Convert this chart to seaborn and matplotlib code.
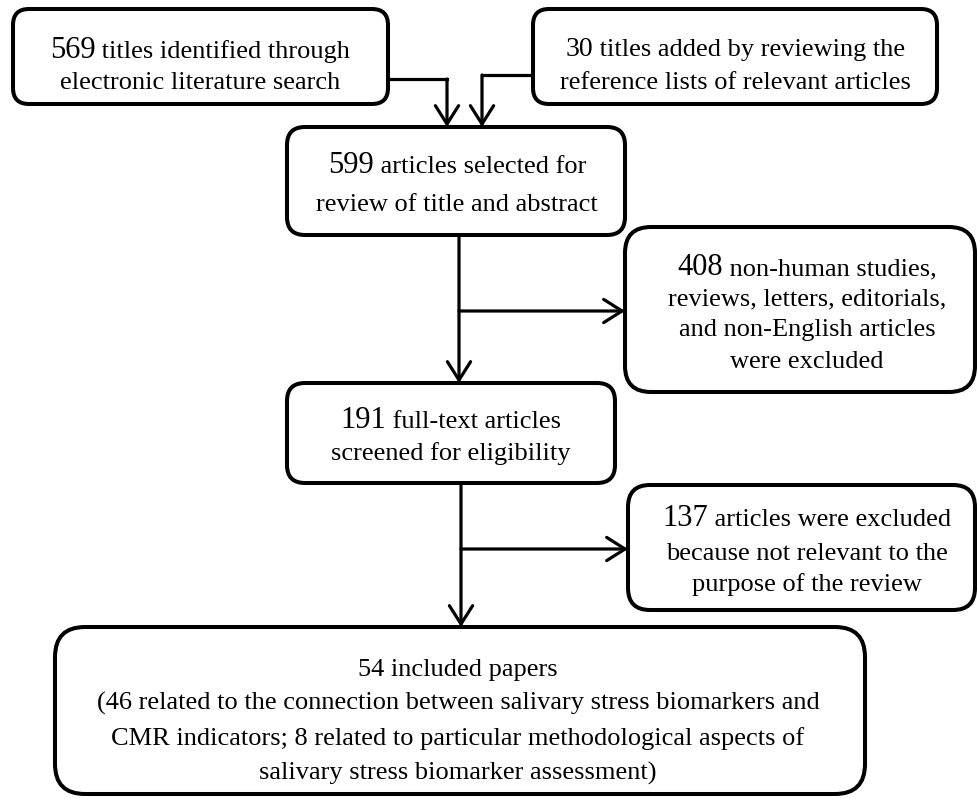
import matplotlib
matplotlib.use("Agg")
import matplotlib.pyplot as plt
import seaborn as sns
from matplotlib.patches import FancyBboxPatch

# ---- data (counts and texts of the PRISMA-style flow) ----
identified = 569
added = 30
selected = 599
excluded_1 = 408
screened = 191
excluded_2 = 137
included = 54
included_cmr = 46
included_method = 8

NUM = 22   # font size of leading counts
TXT = 19   # font size of body text
BIG = 19   # font size of bottom box

box_labels = [
    [[(f"{identified}", NUM), (" titles identified through", TXT)],
     [("electronic literature search", TXT)]],
    [[(f"{added}", 20), (" titles added by reviewing the", TXT)],
     [("reference lists of relevant articles", TXT)]],
    [[(f"{selected}", NUM), (" articles selected for", TXT)],
     [("review of title and abstract", TXT)]],
    [[(f"{excluded_1}", NUM), (" non-human studies,", TXT)],
     [("reviews, letters, editorials,", TXT)],
     [("and non-English articles", TXT)],
     [("were excluded", TXT)]],
    [[(f"{screened}", NUM), (" full-text articles", TXT)],
     [("screened for eligibility", TXT)]],
    [[(f"{excluded_2}", NUM), (" articles were excluded", TXT)],
     [("because not relevant to the", TXT)],
     [("purpose of the review", TXT)]],
    [[(f"{included} included papers", BIG)],
     [(f"({included_cmr} related to the connection between salivary stress biomarkers and", BIG)],
     [(f"CMR indicators; {included_method} related to particular methodological aspects of", BIG)],
     [("salivary stress biomarker assessment)", BIG)]],
]

sns.set_theme(style="white")
plt.rcParams['font.family'] = ['Liberation Serif', 'DejaVu Serif']

W, H = 978, 798
fig = plt.figure(figsize=(W / 100, H / 100), dpi=100)
ax = fig.add_axes([0, 0, 1, 1])
ax.set_xlim(0, W)
ax.set_ylim(H, 0)
ax.axis('off')
renderer = fig.canvas.get_renderer()

# box geometry: x0, y0, x1, y1, rounding, text center x, baselines
boxes = [
    (13, 9, 388, 104, 16, 200, [58, 89]),
    (533, 9, 937, 104, 16, 735, [56, 89]),
    (287, 127, 625, 235, 18, 457, [173, 211]),
    (625, 227, 975, 392, 26, 807, [275, 305, 336, 368]),
    (287, 383, 615, 483, 18, 451, [428, 460]),
    (628, 485, 975, 610, 22, 807, [526, 560, 591]),
    (55, 627, 865, 794, 30, 458, [676, 710, 745, 780]),
]

LW_BOX = 2.9
LW_LINE = 2.3


def draw_line(xc, yb, segs):
    texts = []
    for s, size in segs:
        t = ax.text(0, yb, s, fontsize=size, ha='left', va='baseline', color='black')
        texts.append(t)
    widths = [t.get_window_extent(renderer).width for t in texts]
    cur = xc - sum(widths) / 2
    for t, w in zip(texts, widths):
        t.set_x(cur)
        cur += w


for (x0, y0, x1, y1, r, xc, bls), lines in zip(boxes, box_labels):
    p = FancyBboxPatch((x0, y0), x1 - x0, y1 - y0,
                       boxstyle=f"round,pad=0,rounding_size={r}",
                       fc='white', ec='black', lw=LW_BOX, zorder=2)
    ax.add_patch(p)
    for yb, segs in zip(bls, lines):
        draw_line(xc, yb, segs)


def poly(xs, ys):
    ax.plot(xs, ys, color='black', lw=LW_LINE, solid_capstyle='projecting',
            solid_joinstyle='miter', zorder=1)


def arrow(x0, y0, x1, y1):
    ax.annotate("", xy=(x1, y1), xytext=(x0, y0),
                arrowprops=dict(arrowstyle="->,head_length=0.6,head_width=0.38",
                                lw=LW_LINE, color='black', shrinkA=0, shrinkB=0,
                                mutation_scale=22), zorder=3)


# top merging arrows
poly([388, 447], [79, 79])
arrow(447, 79, 447, 127)
poly([533, 482], [75, 75])
arrow(482, 75, 482, 127)

# 599 -> 191 with exclusion branch
arrow(459, 235, 459, 383)
arrow(459, 311, 625, 311)

# 191 -> 54 with exclusion branch
arrow(461, 483, 461, 627)
arrow(461, 549, 628, 549)

fig.savefig("out.png", dpi=100, facecolor='white')
